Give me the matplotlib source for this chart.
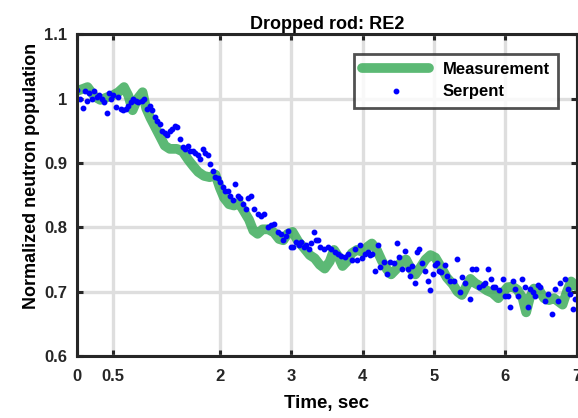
import numpy as np
import matplotlib
matplotlib.use('Agg')
import matplotlib.pyplot as plt

plt.rcParams['font.family'] = ['Liberation Sans Narrow', 'Liberation Sans', 'DejaVu Sans']
plt.rcParams['font.weight'] = 'bold'

# measurement trace (time, normalized population)
meas_t = [0.00, 0.08, 0.15, 0.25, 0.33, 0.42, 0.50, 0.58, 0.66, 0.72, 0.78, 0.85,
          0.92, 0.97, 1.03, 1.10, 1.17, 1.23, 1.30, 1.40, 1.48, 1.56, 1.63, 1.70,
          1.78, 1.86, 1.94, 2.00, 2.06, 2.13, 2.20, 2.27, 2.34, 2.41, 2.47, 2.53,
          2.60, 2.68, 2.76, 2.83, 2.89, 2.95, 3.02, 3.10, 3.18, 3.26, 3.33, 3.40,
          3.47, 3.54, 3.60, 3.66, 3.72, 3.78, 3.85, 3.92, 4.00, 4.07, 4.13, 4.20,
          4.27, 4.34, 4.40, 4.47, 4.55, 4.61, 4.68, 4.74, 4.81, 4.88, 4.95, 5.02,
          5.10, 5.18, 5.26, 5.33, 5.39, 5.45, 5.51, 5.58, 5.66, 5.74, 5.82, 5.90,
          5.96, 6.03, 6.10, 6.17, 6.24, 6.29, 6.34, 6.40, 6.47, 6.54, 6.61, 6.68,
          6.74, 6.80, 6.86, 6.92, 7.00]
meas_v = [1.012, 1.015, 1.018, 1.003, 0.998, 1.002, 1.005, 1.010, 1.018, 1.005, 0.982, 1.000,
          1.010, 0.985, 0.970, 0.955, 0.940, 0.927, 0.922, 0.922, 0.918, 0.905, 0.895, 0.886,
          0.880, 0.878, 0.882, 0.862, 0.846, 0.836, 0.834, 0.838, 0.825, 0.812, 0.795, 0.790,
          0.797, 0.797, 0.792, 0.782, 0.780, 0.790, 0.793, 0.778, 0.768, 0.757, 0.752, 0.742,
          0.736, 0.747, 0.765, 0.755, 0.740, 0.747, 0.760, 0.765, 0.762, 0.770, 0.775, 0.765,
          0.748, 0.735, 0.727, 0.735, 0.748, 0.750, 0.735, 0.727, 0.738, 0.750, 0.757, 0.753,
          0.738, 0.722, 0.712, 0.700, 0.695, 0.708, 0.720, 0.713, 0.708, 0.702, 0.698, 0.690,
          0.698, 0.707, 0.708, 0.703, 0.690, 0.668, 0.690, 0.705, 0.703, 0.690, 0.687, 0.690,
          0.685, 0.680, 0.700, 0.716, 0.708]

# serpent points
serp_t = [0.00, 0.04, 0.08, 0.11, 0.14, 0.17, 0.21, 0.24, 0.28, 0.31, 0.35, 0.38,
          0.42, 0.45, 0.48, 0.51, 0.55, 0.58, 0.62, 0.65, 0.69, 0.72, 0.76, 0.79,
          0.83, 0.86, 0.91, 0.94, 0.98, 1.02, 1.05, 1.09, 1.12, 1.16, 1.19, 1.23,
          1.26, 1.30, 1.33, 1.37, 1.40, 1.44, 1.49, 1.52, 1.55, 1.59, 1.63, 1.66,
          1.69, 1.73, 1.76, 1.80, 1.83, 1.86, 1.90, 1.93, 1.97, 2.00, 2.04, 2.07,
          2.11, 2.14, 2.18, 2.21, 2.25, 2.28, 2.32, 2.37, 2.39, 2.44, 2.48, 2.54,
          2.58, 2.62, 2.68, 2.72, 2.76, 2.82, 2.86, 2.89, 2.93, 2.96, 3.00, 3.03,
          3.07, 3.11, 3.14, 3.18, 3.21, 3.25, 3.28, 3.32, 3.35, 3.37, 3.41, 3.46,
          3.52, 3.56, 3.61, 3.66, 3.70, 3.75, 3.80, 3.85, 3.89, 3.92, 3.96, 3.99,
          4.03, 4.07, 4.10, 4.13, 4.17, 4.21, 4.24, 4.30, 4.34, 4.38, 4.44, 4.48,
          4.51, 4.55, 4.59, 4.63, 4.66, 4.69, 4.73, 4.76, 4.79, 4.83, 4.87, 4.92,
          4.94, 4.99, 5.01, 5.04, 5.07, 5.10, 5.15, 5.18, 5.23, 5.28, 5.32, 5.37,
          5.39, 5.44, 5.50, 5.53, 5.59, 5.63, 5.68, 5.72, 5.75, 5.80, 5.83, 5.86,
          5.91, 5.96, 6.00, 6.03, 6.07, 6.10, 6.14, 6.18, 6.23, 6.27, 6.31, 6.34,
          6.38, 6.42, 6.45, 6.49, 6.55, 6.59, 6.65, 6.70, 6.73, 6.77, 6.83, 6.87,
          6.90, 6.94, 6.98]
serp_v = [1.014, 1.000, 0.986, 1.012, 0.997, 1.009, 1.000, 1.012, 1.003, 1.005, 1.000, 0.995,
          0.977, 1.008, 1.000, 1.005, 0.987, 1.003, 0.984, 0.982, 0.984, 0.989, 0.995, 1.000,
          0.997, 0.995, 0.997, 1.000, 0.984, 0.989, 0.982, 0.972, 0.966, 0.961, 0.950, 0.946,
          0.943, 0.949, 0.953, 0.958, 0.956, 0.938, 0.925, 0.922, 0.927, 0.919, 0.918, 0.915,
          0.912, 0.907, 0.922, 0.915, 0.912, 0.899, 0.887, 0.879, 0.876, 0.871, 0.863, 0.857,
          0.856, 0.849, 0.842, 0.868, 0.849, 0.845, 0.837, 0.829, 0.845, 0.848, 0.829, 0.821,
          0.817, 0.821, 0.801, 0.803, 0.806, 0.793, 0.790, 0.780, 0.787, 0.795, 0.770, 0.770,
          0.778, 0.772, 0.778, 0.770, 0.772, 0.767, 0.775, 0.793, 0.780, 0.780, 0.770, 0.767,
          0.770, 0.767, 0.762, 0.759, 0.756, 0.754, 0.759, 0.749, 0.767, 0.749, 0.772, 0.752,
          0.759, 0.762, 0.757, 0.759, 0.733, 0.772, 0.739, 0.747, 0.728, 0.747, 0.744, 0.775,
          0.754, 0.736, 0.764, 0.736, 0.725, 0.740, 0.713, 0.762, 0.767, 0.745, 0.733, 0.716,
          0.702, 0.728, 0.741, 0.745, 0.733, 0.731, 0.741, 0.725, 0.717, 0.716, 0.751, 0.700,
          0.723, 0.713, 0.689, 0.736, 0.736, 0.708, 0.710, 0.713, 0.736, 0.720, 0.708, 0.708,
          0.702, 0.720, 0.693, 0.693, 0.677, 0.717, 0.705, 0.694, 0.720, 0.708, 0.677, 0.705,
          0.700, 0.694, 0.710, 0.708, 0.685, 0.697, 0.666, 0.705, 0.686, 0.713, 0.720, 0.705,
          0.697, 0.674, 0.689]

xticks = [0, 0.5, 2, 3, 4, 5, 6, 7]
xtick_labels = ['0', '0.5', '2', '3', '4', '5', '6', '7']
yticks = [0.6, 0.7, 0.8, 0.9, 1.0, 1.1]
ytick_labels = ['0.6', '0.7', '0.8', '0.9', '1', '1.1']

fig = plt.figure(figsize=(5.78, 4.18), dpi=100)
ax = fig.add_axes([0.133, 0.148, 0.865, 0.770])

ax.plot(meas_t, meas_v, color='#33a852', alpha=0.8, linewidth=7,
        solid_capstyle='round', solid_joinstyle='round', label='Measurement')
ax.plot(serp_t, serp_v, linestyle='none', marker='o', markersize=3.2,
        color='#0000ff', label='Serpent')

ax.set_xlim(0, 7)
ax.set_ylim(0.6, 1.1)
ax.set_xticks(xticks)
ax.set_xticklabels(xtick_labels)
ax.set_yticks(yticks)
ax.set_yticklabels(ytick_labels)

ax.grid(True, color='#dedede', linewidth=2.4)
ax.set_axisbelow(True)
for s in ax.spines.values():
    s.set_linewidth(2.2)
    s.set_color('#262626')
ax.tick_params(direction='in', length=4, width=2.2, colors='#262626',
               labelsize=12, top=True, right=True)
ax.tick_params(axis='x', pad=9)
ax.tick_params(axis='y', pad=7)
for lab in ax.get_xticklabels() + ax.get_yticklabels():
    lab.set_fontweight('bold')
    lab.set_color('#262626')

ax.set_title('Dropped rod: RE2', fontsize=13, fontweight='bold', pad=4)
ax.set_xlabel('Time, sec', fontsize=13.5, fontweight='bold')
ax.set_ylabel('Normalized neutron population', fontsize=13, fontweight='bold')
ax.xaxis.set_label_coords(0.5, -0.12)
ax.yaxis.set_label_coords(-0.074, 0.56)

leg = ax.legend(loc='upper right', bbox_to_anchor=(0.962, 0.940), borderaxespad=0,
                fontsize=12, frameon=True, fancybox=False, edgecolor='#262626',
                handlelength=4.0, borderpad=0.5, labelspacing=0.45)
leg.get_frame().set_linewidth(2)
for t in leg.get_texts():
    t.set_fontweight('bold')

fig.savefig('out.png', dpi=100)
